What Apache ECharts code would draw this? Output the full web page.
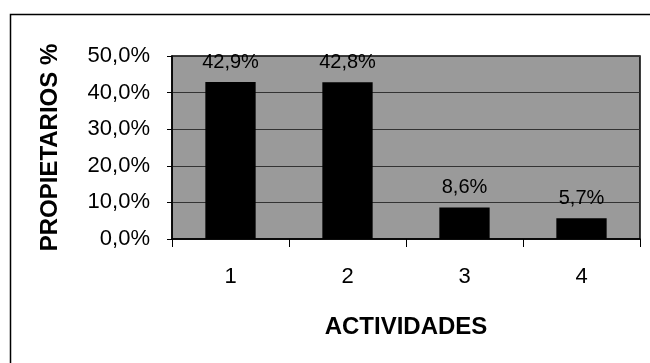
<!DOCTYPE html>
<html>
<head>
<meta charset="utf-8">
<script src="https://cdn.jsdelivr.net/npm/echarts@6/dist/echarts.min.js"></script>
<style>html,body{margin:0;padding:0;background:#fff;}#c{width:650px;height:363px;}</style>
</head>
<body>
<div id="c"></div>
<script>
var categories = ['1', '2', '3', '4'];
var propietarios = [42.9, 42.8, 8.6, 5.7];
var yTicks = [0, 10, 20, 30, 40, 50];

function pct(v) { return v.toFixed(1).replace('.', ',') + '%'; }

var chart = echarts.init(document.getElementById('c'), null, {renderer: 'canvas'});
chart.setOption({
  animation: false,
  backgroundColor: '#ffffff',
  textStyle: {fontFamily: 'Liberation Sans, Arial, sans-serif', color: '#000'},
  grid: {left: 172, right: 10, top: 56, bottom: 124, show: true, backgroundColor: '#9a9a9a', borderColor: '#000', borderWidth: 1.5},
  graphic: [{
    type: 'rect', shape: {x: 10.5, y: 14.5, width: 700, height: 400},
    style: {fill: 'none', stroke: '#000', lineWidth: 1.5}, silent: true, z: -1
  }],
  xAxis: {
    type: 'category', data: categories,
    name: 'ACTIVIDADES', nameLocation: 'middle', nameGap: 76,
    nameTextStyle: {fontSize: 24, fontWeight: 'bold', color: '#000', fontFamily: 'Liberation Sans'},
    axisLine: {lineStyle: {color: '#000', width: 1.5}},
    axisTick: {show: true, length: 8, lineStyle: {color: '#000'}},
    axisLabel: {fontSize: 22, color: '#000', margin: 27, fontFamily: 'Liberation Sans'}
  },
  yAxis: {
    type: 'value', min: yTicks[0], max: yTicks[yTicks.length - 1], interval: 10,
    name: 'PROPIETARIOS %', nameLocation: 'middle', nameGap: 110, nameRotate: 90,
    nameTextStyle: {fontSize: 24, fontWeight: 'bold', color: '#000', fontFamily: 'Liberation Sans'},
    axisLine: {show: true, lineStyle: {color: '#000', width: 1.5}},
    axisTick: {show: true, length: 5, lineStyle: {color: '#000'}},
    axisLabel: {fontSize: 22, color: '#000', margin: 22, formatter: pct, fontFamily: 'Liberation Sans'},
    splitLine: {show: true, lineStyle: {color: '#333', width: 1}}
  },
  series: [{
    type: 'bar', data: propietarios, barWidth: '43%',
    itemStyle: {color: '#000'},
    label: {show: true, position: 'top', distance: 10, fontSize: 20, color: '#000',
      fontFamily: 'Liberation Sans', formatter: function (p) { return pct(p.value); }}
  }]
});
</script>
</body>
</html>
